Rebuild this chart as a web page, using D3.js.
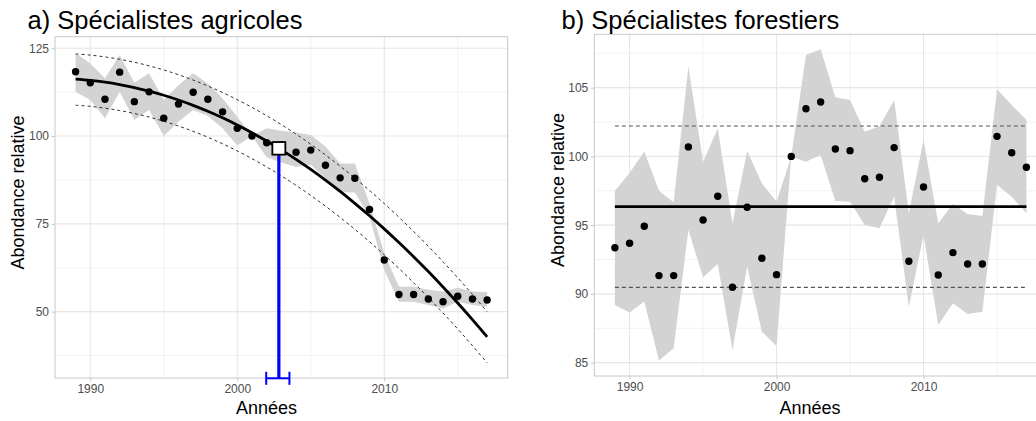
<!DOCTYPE html>
<html><head><meta charset="utf-8">
<script src="https://cdn.jsdelivr.net/npm/d3@7"></script>
<style>
html,body{margin:0;padding:0;background:#fff;}
svg{display:block;font-family:"Liberation Sans",Arial,sans-serif;}
</style></head>
<body>
<svg id="chart" width="1036" height="421"></svg>
<script>
// ---------- data ----------
const years = [1989,1990,1991,1992,1993,1994,1995,1996,1997,1998,1999,2000,2001,2002,2003,2004,2005,2006,2007,2008,2009,2010,2011,2012,2013,2014,2015,2016,2017];
const xTicks = [1990, 2000, 2010];

// a) Spécialistes agricoles
const agriValues = [118.3,115.2,110.5,118.2,109.8,112.6,105.1,109.1,112.5,110.5,106.9,102.2,100.0,98.1,97.5,95.4,96.0,91.7,88.1,88.0,79.1,64.7,54.9,54.9,53.6,52.8,54.4,53.6,53.3];
const agriUpper  = [123.7,120.7,116.5,123.1,115.2,117.9,110.3,114.5,117.9,115.0,110.7,105.5,100.0,102.2,101.5,101.0,100.3,97.0,92.2,92.2,80.8,66.6,57.1,57.1,56.2,55.7,56.8,55.7,55.6];
const agriLower  = [112.6,110.3,105.1,112.6,104.6,107.4,100.0,104.1,107.4,105.7,102.2,97.3,100.0,94.0,92.5,91.2,91.8,88.0,84.1,83.9,77.0,61.8,52.8,52.8,51.9,50.9,52.8,51.9,51.4];
const agriFit    = [116.2,115.86,115.35,114.67,113.83,112.81,111.63,110.27,108.75,107.06,105.2,103.17,100.97,98.6,96.07,93.36,90.49,87.44,84.23,80.85,77.3,73.58,69.69,65.63,61.41,57.01,52.45,47.71,42.81];
const agriFitHi  = [123.4,123.06,122.55,121.87,121.03,120.01,118.83,117.47,115.95,114.26,112.4,110.37,108.17,105.8,103.27,100.56,97.69,94.64,91.43,88.05,84.5,80.78,76.89,72.83,68.61,64.21,59.65,54.91,50.01];
const agriFitLo  = [108.8,108.46,107.95,107.27,106.43,105.41,104.23,102.87,101.35,99.66,97.8,95.77,93.57,91.2,88.67,85.96,83.09,80.04,76.83,73.45,69.9,66.18,62.29,58.23,54.01,49.61,45.05,40.31,35.41];
const agriYTicks = [50, 75, 100, 125];
const agriYMinor = [37.5, 62.5, 87.5, 112.5];
const breakPoint = [2002.83, 96.5];     // year, value
const breakCI = [2001.97, 2003.55];

// b) Spécialistes forestiers
const foretValues = [93.36,93.68,94.92,91.33,91.33,100.69,95.38,97.1,90.48,96.3,92.59,91.4,100.0,103.47,103.96,100.54,100.42,98.38,98.48,100.64,92.37,97.78,91.38,93.0,92.18,92.18,101.46,100.27,99.21];
const foretUpper  = [97.5,98.8,100.35,97.5,96.67,106.53,99.62,102.05,95.14,100.4,98.05,96.71,100.0,107.38,107.79,104.3,104.1,101.8,102.2,104.1,95.87,101.2,95.14,96.54,95.81,95.67,104.88,103.74,102.65];
const foretLower  = [89.2,88.64,89.44,85.15,86.04,94.65,91.21,92.18,85.92,92.0,87.25,86.22,100.0,99.62,100.1,96.76,96.71,95.01,94.77,97.07,89.07,94.29,87.74,89.32,88.54,88.71,97.92,97.07,95.87];
const foretMean = [96.35];
const foretBand = [90.48, 102.21];
const foretYTicks = [85, 90, 95, 100, 105];
const foretYMinor = [87.5, 92.5, 97.5, 102.5, 107.5];
const xMinor = [1995, 2005, 2015];

// ---------- drawing ----------
const svg = d3.select("#chart");
svg.append("rect").attr("width",1036).attr("height",421).attr("fill","#fff");

function panel(opt){
  const x = d3.scaleLinear().domain([1987.6, 2018.4]).range([opt.left, opt.right]);
  const y = d3.scaleLinear().domain(opt.yDomain).range([opt.bottom, opt.top]);
  const g = svg.append("g");
  // grid
  g.selectAll(".ym").data(opt.yMinor).join("line")
    .attr("x1",opt.left).attr("x2",opt.right).attr("y1",d=>y(d)).attr("y2",d=>y(d))
    .attr("stroke","#f2f2f2").attr("stroke-width",1);
  g.selectAll(".xm").data(xMinor).join("line")
    .attr("y1",opt.top).attr("y2",opt.bottom).attr("x1",d=>x(d)).attr("x2",d=>x(d))
    .attr("stroke","#f2f2f2").attr("stroke-width",1);
  g.selectAll(".yM").data(opt.yTicks).join("line")
    .attr("x1",opt.left).attr("x2",opt.right).attr("y1",d=>y(d)).attr("y2",d=>y(d))
    .attr("stroke","#e6e6e6").attr("stroke-width",1.1);
  g.selectAll(".xM").data(xTicks).join("line")
    .attr("y1",opt.top).attr("y2",opt.bottom).attr("x1",d=>x(d)).attr("x2",d=>x(d))
    .attr("stroke","#e6e6e6").attr("stroke-width",1.1);
  // border
  g.append("rect").attr("x",opt.left).attr("y",opt.top)
    .attr("width",opt.right-opt.left).attr("height",opt.bottom-opt.top)
    .attr("fill","none").attr("stroke","#c8c8c8").attr("stroke-width",1);
  // axes
  const ax = g.append("g").attr("transform",`translate(0,${opt.bottom})`)
    .call(d3.axisBottom(x).tickValues(xTicks).tickFormat(d3.format("d")).tickSize(3.5).tickPadding(3));
  const ay = g.append("g").attr("transform",`translate(${opt.left},0)`)
    .call(d3.axisLeft(y).tickValues(opt.yTicks).tickSize(3.5).tickPadding(2.5));
  [ax,ay].forEach(a=>{
    a.select(".domain").remove();
    a.selectAll(".tick line").attr("stroke","#c8c8c8");
    a.selectAll(".tick text").attr("fill","#4d4d4d").style("font-size","12px")
      .style("font-family","'Liberation Sans',Arial,sans-serif");
  });
  // titles
  svg.append("text").attr("x",opt.titleX).attr("y",28.5).text(opt.title)
    .style("font-size","25.5px").attr("fill","#000");
  svg.append("text").attr("x",opt.xLabX).attr("y",414).attr("text-anchor","middle")
    .text("Années").style("font-size","18px").attr("fill","#000");
  svg.append("text").attr("transform",`translate(${opt.yLabX},${opt.yLabY}) rotate(-90)`)
    .attr("text-anchor","middle").text("Abondance relative").style("font-size","18px").attr("fill","#000");
  return {x,y,g};
}

// Panel a
const pa = panel({left:55, right:507.7, top:36.7, bottom:378, yDomain:[31.1,128.3],
  yTicks:agriYTicks, yMinor:agriYMinor, title:"a) Spécialistes agricoles",
  titleX:27.5, xLabX:266.5, yLabX:24, yLabY:192.5});
{
  const {x,y,g} = pa;
  const rib = years.map((yr,i)=>({yr,lo:agriLower[i],hi:agriUpper[i]}));
  g.append("path").datum(rib).attr("fill","#d3d3d3")
    .attr("d", d3.area().x(d=>x(d.yr)).y0(d=>y(d.lo)).y1(d=>y(d.hi)));
  const line = d3.line().curve(d3.curveCatmullRom).x(d=>x(d[0])).y(d=>y(d[1]));
  [agriFitHi, agriFitLo].forEach(arr=>{
    g.append("path").datum(years.map((yr,i)=>[yr,arr[i]])).attr("d",line)
      .attr("fill","none").attr("stroke","#1a1a1a").attr("stroke-width",0.9).attr("stroke-dasharray","3,3");
  });
  g.selectAll(".pt").data(years.map((yr,i)=>[yr,agriValues[i]])).join("circle")
    .attr("cx",d=>x(d[0])).attr("cy",d=>y(d[1])).attr("r",3.7).attr("fill","#000");
  g.append("path").datum(years.map((yr,i)=>[yr,agriFit[i]])).attr("d",line)
    .attr("fill","none").attr("stroke","#000").attr("stroke-width",2.8);
  // breakpoint
  const bx = x(breakPoint[0]), by = y(breakPoint[1]);
  const yb = 378.3;
  g.append("line").attr("x1",bx).attr("x2",bx).attr("y1",by).attr("y2",yb)
    .attr("stroke","#0000ff").attr("stroke-width",3.2);
  g.append("line").attr("x1",x(breakCI[0])).attr("x2",x(breakCI[1])).attr("y1",yb).attr("y2",yb)
    .attr("stroke","#0000ff").attr("stroke-width",2);
  breakCI.forEach(v=>{
    g.append("line").attr("x1",x(v)).attr("x2",x(v)).attr("y1",yb-6.5).attr("y2",yb+6.5)
      .attr("stroke","#0000ff").attr("stroke-width",2);
  });
  g.append("rect").attr("x",bx-6.5).attr("y",by-6.3).attr("width",13).attr("height",12.6)
    .attr("fill","#fff").attr("stroke","#000").attr("stroke-width",1.8);
}

// Panel b
const pb = panel({left:594.3, right:1047, top:34.3, bottom:376, yDomain:[84.03,108.88],
  yTicks:foretYTicks, yMinor:foretYMinor, title:"b) Spécialistes forestiers",
  titleX:561.5, xLabX:810, yLabX:564, yLabY:190});
{
  const {x,y,g} = pb;
  const rib = years.map((yr,i)=>({yr,lo:foretLower[i],hi:foretUpper[i]}));
  g.append("path").datum(rib).attr("fill","#d3d3d3")
    .attr("d", d3.area().x(d=>x(d.yr)).y0(d=>y(d.lo)).y1(d=>y(d.hi)));
  const x0 = x(years[0]), x1 = x(years[years.length-1]);
  foretBand.forEach(v=>{
    g.append("line").attr("x1",x0).attr("x2",x1).attr("y1",y(v)).attr("y2",y(v))
      .attr("stroke","#555").attr("stroke-width",1.2).attr("stroke-dasharray","4,3");
  });
  g.append("line").attr("x1",x0).attr("x2",x1).attr("y1",y(foretMean[0])).attr("y2",y(foretMean[0]))
    .attr("stroke","#000").attr("stroke-width",2.8);
  g.selectAll(".pt").data(years.map((yr,i)=>[yr,foretValues[i]])).join("circle")
    .attr("cx",d=>x(d[0])).attr("cy",d=>y(d[1])).attr("r",3.7).attr("fill","#000");
}
</script>
</body></html>
